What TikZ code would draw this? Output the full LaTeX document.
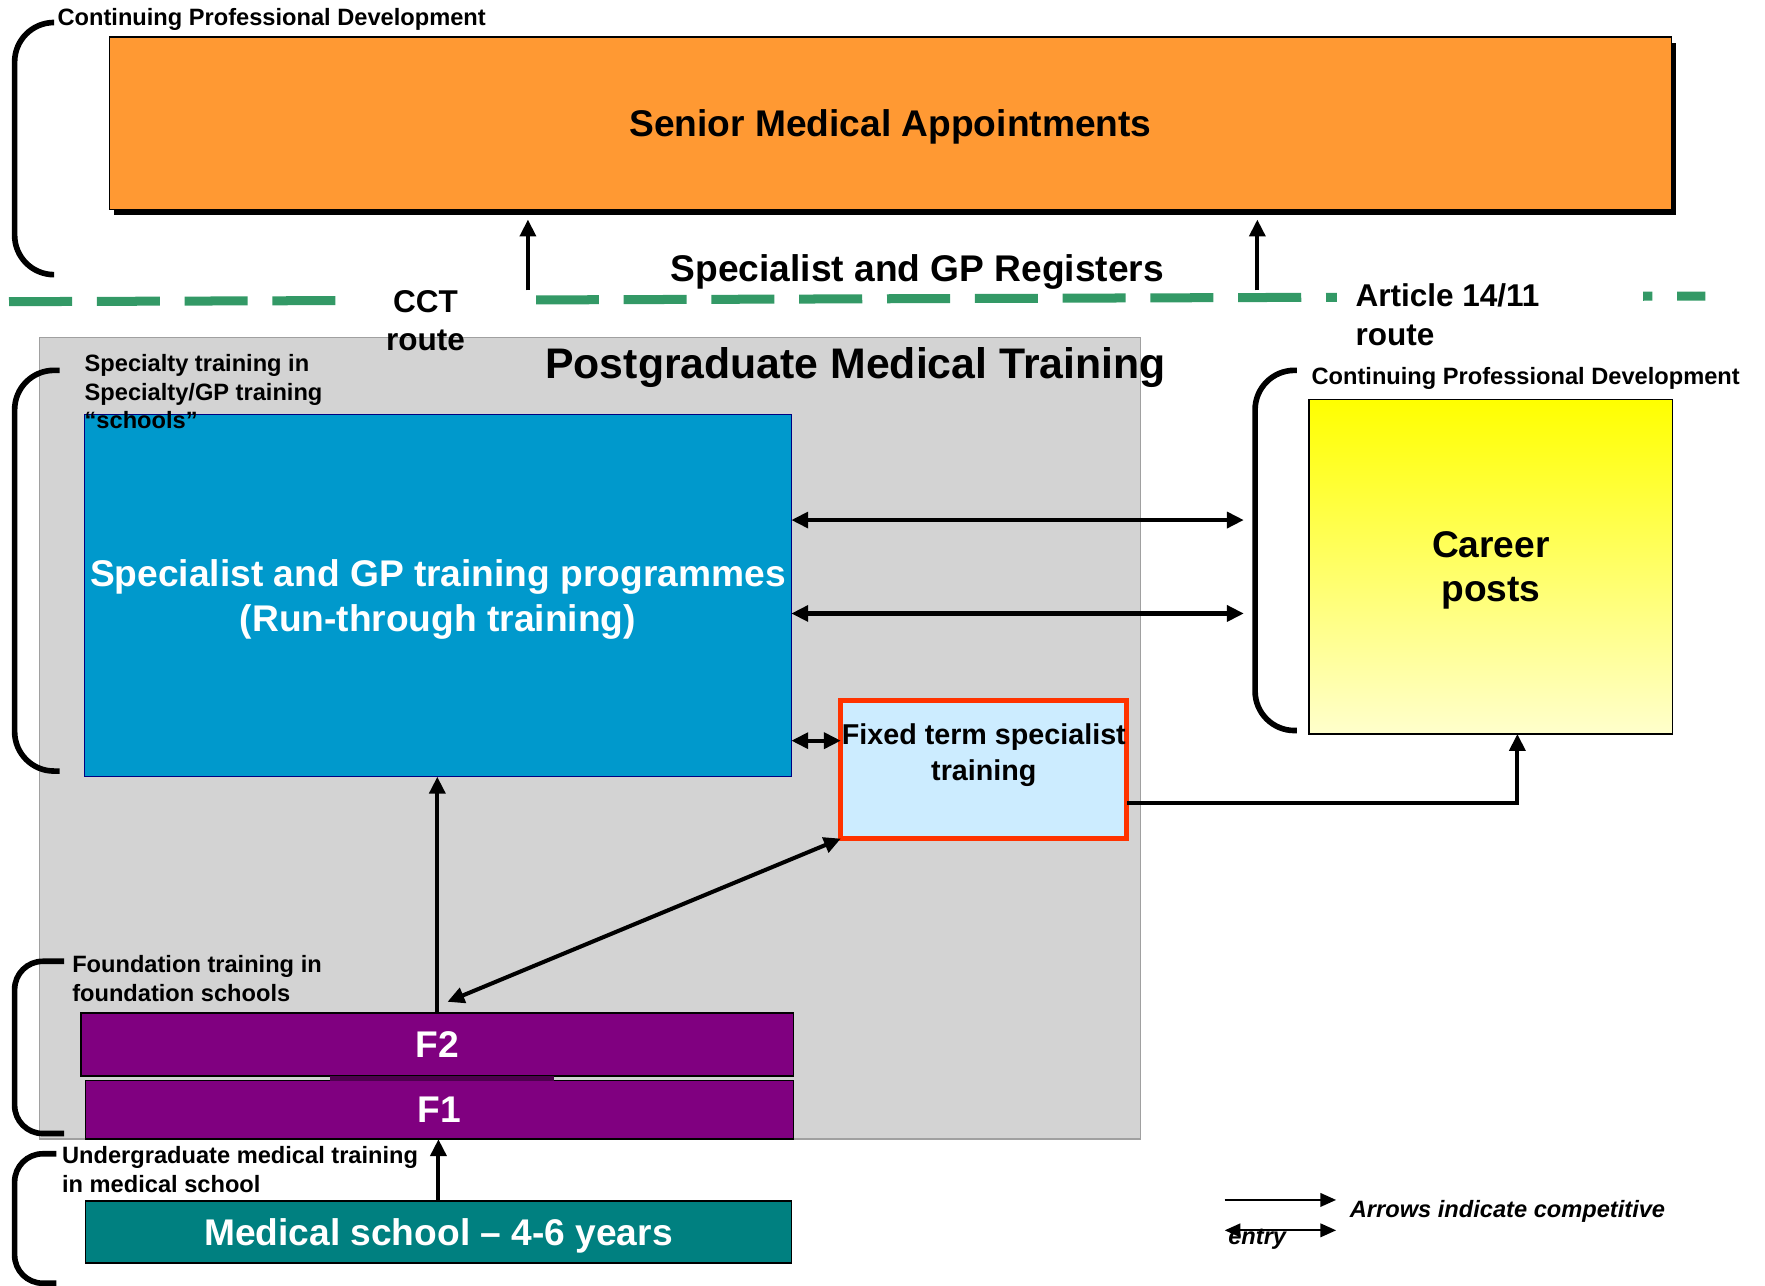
\documentclass[tikz,border=0pt]{standalone}
\usepackage{fontspec}
\setmainfont{Liberation Sans}
\usepackage{tikz}
\usetikzlibrary{arrows.meta}
\usetikzlibrary{shadows}
\usetikzlibrary{math}

\definecolor{seniororange}{HTML}{FF9933}
\definecolor{runblue}{HTML}{0099CC}
\definecolor{runborder}{HTML}{000080}
\definecolor{fixedfill}{HTML}{CCECFF}
\definecolor{fixedred}{HTML}{FF3300}
\definecolor{fpurple}{HTML}{800080}
\definecolor{fbar}{HTML}{4D004D}
\definecolor{medteal}{HTML}{008080}
\definecolor{pgmgrey}{HTML}{D3D3D3}
\definecolor{pgmborder}{HTML}{A0A0A0}
\definecolor{registergreen}{HTML}{339966}
\definecolor{careertop}{HTML}{FFFF00}
\definecolor{careerbottom}{HTML}{FFFFCC}

\begin{document}
\begin{tikzpicture}[x=1pt,y=-1pt,
  box/.style={draw, anchor=north west, inner sep=0pt, outer sep=0pt, line width=1.2pt},
  small/.style={font=\fontsize{21}{25.5}\selectfont\bfseries, align=left, inner sep=0pt, anchor=base west},
  big/.style={font=\fontsize{33}{39.5}\selectfont\bfseries, align=center, text depth=0pt},
  arr/.style={line width=3.6pt, -{Triangle[length=15pt,width=14pt]}},
  dbl/.style={line width=3.6pt, {Triangle[length=15pt,width=14pt]}-{Triangle[length=15pt,width=14pt]}},
  keyarr/.style={line width=2pt, -{Triangle[length=14pt,width=12pt]}},
  keydbl/.style={line width=2pt, {Triangle[length=14pt,width=12pt]}-{Triangle[length=14pt,width=12pt]}},
  bracket/.style={line width=5pt},
  register/.style={line width=8pt, registergreen, dash pattern=on 56pt off 22pt},
]

  \tikzmath{
    \brad  = 35;  % corner radius of the large brackets
    \srad  = 25;  % corner radius of the small brackets
    \regy  = 268; % height of the register line at its left end
  }

  \useasboundingbox (0,0) rectangle (1568,1142);

  % register line, cut where the route labels sit
  \draw[register] (8,\regy) -- (1515,\regy-5);
  \fill[white] (300,250) rectangle (476,303);
  \fill[white] (1188,248) rectangle (1460,312);

  % postgraduate area
  \node[box, fill=pgmgrey, draw=pgmborder, minimum width=978, minimum height=712] (pgm) at (35,300) {};

  % brackets
  \draw[bracket, rounded corners=\brad] (46,20) -- (13,20) -- (13,244) -- (46,244);
  \draw[bracket, rounded corners=\brad] (53,329) -- (13,329) -- (13,685) -- (53,685);
  \draw[bracket, rounded corners=\brad] (1152,329) -- (1115,329) -- (1115,649) -- (1152,649);
  \draw[bracket, rounded corners=\srad] (57,854) -- (13,854) -- (13,1007) -- (57,1007);
  \draw[bracket, rounded corners=\srad] (50,1025) -- (13,1025) -- (13,1140) -- (50,1140);

  % senior appointments
  \node[box, fill=seniororange, big, minimum width=1388, minimum height=153,
        drop shadow={shadow xshift=4pt, shadow yshift=-5pt, fill=black, opacity=1}]
    (senior) at (97,33) {Senior Medical Appointments};

  % training boxes
  \node[box, fill=runblue, draw=runborder, big, text=white, minimum width=628, minimum height=322]
    (run) at (75,368) {Specialist and GP training programmes\\(Run-through training)};
  \node[box, fill=fixedfill, draw=fixedred, line width=4.5pt, minimum width=254, minimum height=123]
    (fixed) at (747,622) {};
  \node[font=\fontsize{25.5}{32}\selectfont\bfseries, align=center]
    (fixedtxt) at ([yshift=12.5]fixed.center) {Fixed term specialist\\training};
  \node[box, top color=careertop, bottom color=careerbottom, big, minimum width=323, minimum height=297]
    (career) at (1163,355) {Career\\posts};
  \node[box, fill=fpurple, big, text=white, minimum width=633, minimum height=56] (f2) at (72,900) {F2};
  \node[box, fill=fpurple, big, text=white, minimum width=629, minimum height=52] (f1) at (76,960) {F1};
  \fill[fbar] (293,956) rectangle (492,960);
  \node[box, fill=medteal, big, text=white, minimum width=627, minimum height=55]
    (med) at (76,1067) {Medical school – 4-6 years};

  % entry routes
  \coordinate (cct) at (469,258);
  \coordinate (art) at (1117,258);
  \draw[arr, shorten >=9pt] (cct) -- (cct |- senior.south);
  \draw[arr, shorten >=9pt] (art) -- (art |- senior.south);

  \coordinate (cpd1) at (1105,462);
  \coordinate (cpd2) at (1105,545);
  \draw[dbl] ([yshift=67]run.east) -- (cpd1);
  \draw[dbl] ([yshift=-16]run.east) -- (cpd2);
  \draw[dbl] ([yshift=-129]run.east) -- ([yshift=25.5]fixed.west);
  \draw[dbl] ([shift={(9,-10)}]f2.north) -- (fixed.south west);
  \draw[arr] (f2.north) -- (f2.north |- run.south);
  \draw[arr] (med.north) -- (med.north |- f1.south);
  \draw[arr] ([yshift=-29.5]fixed.east) -| ([xshift=23.5]career.south);

  % labels (multi-line ones sit on the baseline of their last line)
  \node[small] (topcpd) at (51,23) {Continuing Professional Development};
  \node[small] (rightcpd) at (1165,342) {Continuing Professional Development};
  \node[small] (schools) at (75,381) {Specialty training in\\Specialty/GP training\\“schools”};
  \node[small] (foundation) at (64,889.5) {Foundation training in\\foundation schools};
  \node[small] (undergrad) at (55,1059.5) {Undergraduate medical training\\in medical school};
  \node[font=\fontsize{33}{39.5}\selectfont\bfseries, anchor=base] (registers) at (815,250) {Specialist and GP Registers};
  \node[font=\fontsize{28}{33}\selectfont\bfseries, align=center, anchor=base] (cctlbl) at (378,311) {CCT\\route};
  \node[font=\fontsize{28}{35}\selectfont\bfseries, align=left, inner sep=0pt, anchor=base west] (artlbl) at (1204,307) {Article 14/11\\route};
  \node[font=\fontsize{38}{45}\selectfont\bfseries, anchor=base] (pgmtitle) at (760,336) {Postgraduate Medical Training};

  % key
  \coordinate (keya) at (1088,1066);
  \coordinate (keyb) at (1187,1066);
  \coordinate (keyc) at (1088,1093);
  \coordinate (keyd) at (1187,1093);
  \draw[keyarr] (keya) -- (keyb);
  \draw[keydbl] (keyc) -- (keyd);
  \node[small, font=\fontsize{21}{25.5}\selectfont\bfseries\itshape] (keytxt) at (1199,1082) {Arrows indicate competitive};
  \node[small, font=\fontsize{21}{25.5}\selectfont\bfseries\itshape] (keyentry) at (1091,1106) {entry};

\end{tikzpicture}
\end{document}
